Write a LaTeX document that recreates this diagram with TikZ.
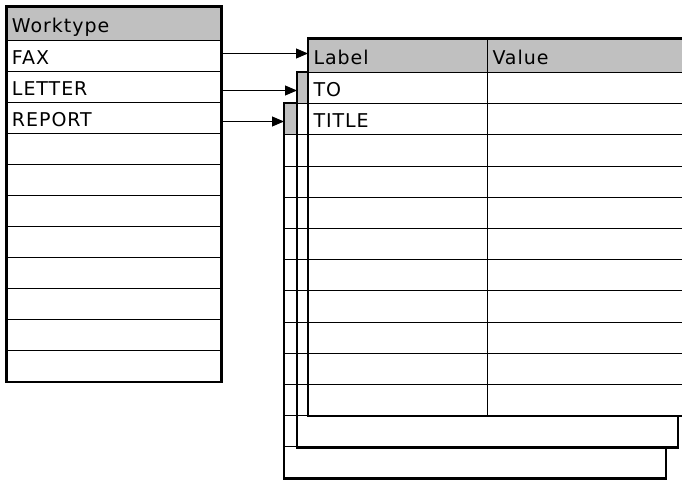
\documentclass[tikz,border=0pt]{standalone}
\usepackage{fontspec}
\setmainfont{DejaVu Sans}[LetterSpace=5.0]
\usetikzlibrary{arrows.meta}
\definecolor{hdrgray}{HTML}{C0C0C0}

\begin{document}
\begin{tikzpicture}[
    x=1pt, y=-1pt,
    every node/.style={font=\fontsize{19}{21}\selectfont},
    cell/.style={draw, line width=1pt, fill=white, anchor=north west, inner xsep=5pt, inner ysep=0pt,
      minimum height=31.2pt, text height=17pt, text depth=0pt, align=left},
    hdr/.style={cell, fill=hdrgray},
    sheet/.style={draw, line width=2.5pt},
    >={Triangle[length=12pt, width=10pt]},
  ]
  \useasboundingbox (0,0) rectangle (682,481);

  % back sheets (REPORT, LETTER)
  \foreach \sh/\x/\y/\w in {rep/284/103.2/381, let/297/72/380} {
    \node[hdr, minimum width=\w pt] (\sh0) at (\x,\y) {};
    \foreach \r in {1,...,11}
      \node[cell, minimum width=\w pt] (\sh\r) at (\x,\y+31.2*\r) {};
    \draw[sheet] (\sh0.north west) rectangle (\sh11.south east);
  }

  % front sheet (FAX)
  \node[hdr, text width=169pt, minimum height=33.5pt] (lab0) at (308,38.5) {Label};
  \node[hdr, text width=189pt, minimum height=33.5pt] (val0) at (487,38.5) {Value};
  \node[cell, text width=169pt] (lab1) at (308,72) {TO};
  \node[cell, text width=169pt] (lab2) at (308,103.2) {TITLE};
  \foreach \r in {3,...,11}
    \node[cell, text width=169pt] (lab\r) at (308,72+31.2*\r-31.2) {};
  \foreach \r in {1,...,11}
    \node[cell, text width=189pt] (val\r) at (487,72+31.2*\r-31.2) {};
  \draw[sheet] (lab0.north west) rectangle (val11.south east);

  % worktype list
  \node[hdr, text width=204pt, minimum height=33.5pt] (wt0) at (6.5,6.5) {Worktype};
  \foreach \r/\t in {1/FAX, 2/LETTER, 3/REPORT}
    \node[cell, text width=204pt, minimum height=31pt] (wt\r) at (6.5,40+31*\r-31) {\t};
  \foreach \r in {4,...,11}
    \node[cell, text width=204pt, minimum height=31pt] (wt\r) at (6.5,40+31*\r-31) {};
  \draw[sheet] (wt0.north west) rectangle (wt11.south east);

  % links
  \coordinate (fax) at ([yshift=2.5pt]wt1.east);
  \coordinate (letter) at ([yshift=-3.5pt]wt2.east);
  \coordinate (report) at ([yshift=-3.5pt]wt3.east);
  \draw[->, line width=1pt] (fax) -- (fax -| lab0.west);
  \draw[->, line width=1pt] (letter) -- (letter -| let0.west);
  \draw[->, line width=1pt] (report) -- (report -| rep0.west);
\end{tikzpicture}
\end{document}
